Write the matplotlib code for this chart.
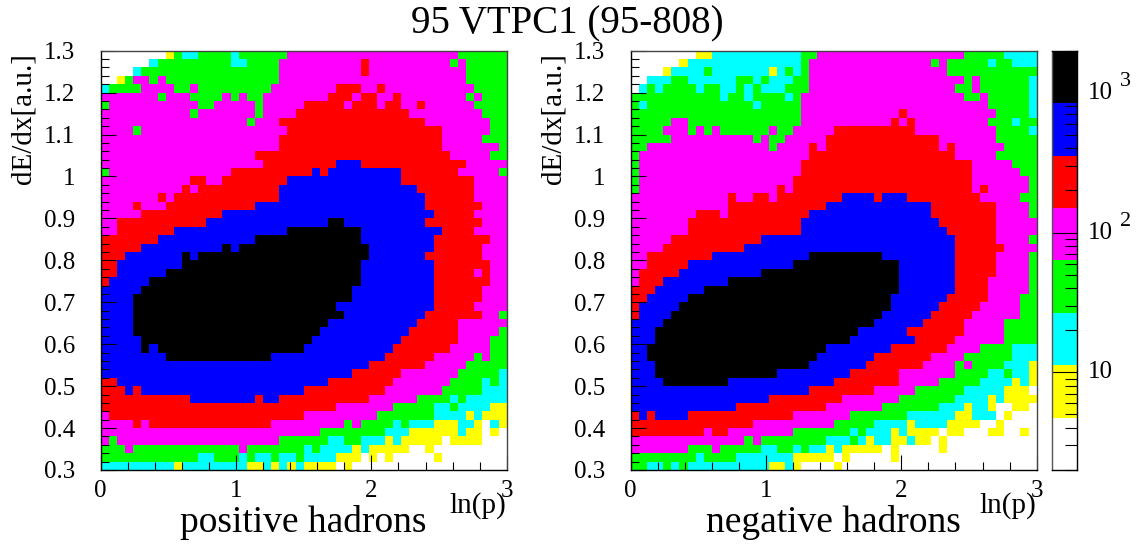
import matplotlib
matplotlib.use("Agg")
import matplotlib.pyplot as plt
import numpy as np
from matplotlib.colors import ListedColormap
from matplotlib.ticker import FixedLocator, LogLocator, NullFormatter

plt.rcParams['font.family'] = ['Liberation Serif', 'DejaVu Serif']

# Each row runs top to bottom: colour class + column where that run ends
positive_rows = [
    "W8 Y9 G10 C12 G16 C17 G23 M44 G50",
    "W6 C7 G16 C18 G22 M32 R33 M43 G44 M45 G50",
    "W4 C5 G22 M32 R33 M45 G50",
    "W2 Y3 G4 M6 G7 M8 G22 M45 G50",
    "C1 G5 M9 G11 M12 G21 M29 R32 M34 R35 M46 G50",
    "M7 G8 M11 G15 M16 G17 M18 G20 M28 R31 M32 R34 M36 R37 M45 G46 M47 G50",
    "G1 M12 G14 M19 G20 M25 R30 M31 R34 M35 R37 M39 R40 M46 G50",
    "M11 G12 M19 G20 M24 R38 M47 G50",
    "M18 G19 M22 R40 M48 G50",
    "M4 G5 M23 R42 M48 G50",
    "M22 R42 M47 G50",
    "M22 R42 M49 G50",
    "M19 R43 M48 G50",
    "M20 R29 B32 R45 M50",
    "G1 M16 R26 B27 R28 B37 R44 M49 G50",
    "M11 R13 M15 R23 B37 R46 M50",
    "M10 R11 M12 R22 B39 R46 M50",
    "M7 R8 M9 R22 B40 R46 M50",
    "M4 R5 M8 R19 B40 R47 M50",
    "M5 R15 B41 R46 M50",
    "M2 R13 B28 K30 B40 R47 M50",
    "M2 R9 B23 K32 B42 R46 M50",
    "R7 B19 K32 B41 R48 M50",
    "R5 B15 K16 B17 K33 B41 R47 M50",
    "R3 B10 K11 B12 K33 B40 R47 M50",
    "R2 B10 K32 B41 R48 M50",
    "R2 B8 K32 B41 R46 M47 R48 M50",
    "R1 B6 K32 B41 R48 M50",
    "B5 K31 B41 R47 M50",
    "B4 K31 B41 R47 M50",
    "B4 K29 B41 R46 M50",
    "B4 K30 B40 R47 M49 G50",
    "B4 K28 B39 R44 M50",
    "B4 K27 B38 R44 M49 G50",
    "B5 K26 B37 R44 M48 G50",
    "B5 K6 B7 K25 B36 R43 M48 G50",
    "B8 K21 B35 R41 M46 G47 M48 G50",
    "B33 R40 M45 G50",
    "B31 R37 M44 G49 C50",
    "R2 B28 R36 M43 G47 C48 G49 C50",
    "R3 B4 R5 B25 R35 M42 G47 C50",
    "R11 B19 R20 B22 R33 M39 G43 C44 G45 C50",
    "R29 M36 G41 C43 G44 C48 Y50",
    "M1 R25 M34 G41 C45 Y46 C47 Y50",
    "M4 R5 M6 R21 M30 G31 M32 G36 C37 G38 C41 Y44 C46 Y47 W48 C49 Y50",
    "M27 G35 C38 Y44 C45 Y47 W48 Y49 W50",
    "M1 G2 M22 G28 C30 G32 C35 Y36 C37 Y42 W43 Y47 W50",
    "G3 M4 G17 M18 G25 C26 G27 C31 Y32 C33 Y38 W40 Y41 W50",
    "G12 C14 G17 C18 G19 C21 G22 C24 G25 C29 Y32 W33 Y34 W35 Y36 W41 Y42 W50",
    "C9 Y10 C18 Y20 C21 Y22 C23 Y24 C25 Y29 W30 Y31 W50",
]

negative_rows = [
    "W8 Y10 C21 G23 M41 G46 C50",
    "W6 Y7 C21 G22 M37 G38 M39 G44 C45 G47 C50",
    "W4 Y5 C9 G10 C17 Y18 C19 G20 C21 G22 M39 G50",
    "W2 C5 G7 C13 G15 C16 G17 C20 G22 M41 G42 M43 G49 C50",
    "W1 C2 G3 C4 G8 C9 G11 C13 G14 C15 G16 C19 G22 M40 G42 M43 G49 C50",
    "G11 C12 G14 C15 G19 C20 G21 M41 G43 M44 G49 C50",
    "G1 C2 G15 C16 G21 M44 G49 C50",
    "G21 M33 R34 M45 G49 C50",
    "G5 M7 G21 M32 R33 M34 R35 M44 G47 C48 G50",
    "G4 M7 G8 M9 G10 M11 G17 M18 G20 M25 R35 M45 G49 C50",
    "G5 M15 G16 M17 G19 M24 R38 M45 G50",
    "G2 M17 G18 M22 R23 M24 R38 M39 R40 M46 G50",
    "G1 M22 R40 M45 G50",
    "G1 M21 R42 M47 G50",
    "G1 M21 R42 M48 G50",
    "G1 M20 R42 M49 G50",
    "G1 M18 R19 M20 R42 M43 R44 M49 G50",
    "M12 R13 M15 R17 M18 R26 B30 R31 B34 R43 M48 G50",
    "M12 R24 B37 R45 M49 G50",
    "M8 R11 M12 R22 B37 R45 M49 G50",
    "M7 R21 B38 R45 M50",
    "M7 R21 B39 R45 M50",
    "M5 R16 B40 R45 M49 G50",
    "M4 R14 B40 R46 M50",
    "M2 R10 B22 K31 B40 R45 M49 G50",
    "M2 R7 B20 K33 B40 R45 M49 G50",
    "M1 R6 B16 K33 B40 R45 M49 G50",
    "M1 R4 B12 K33 B40 R44 M49 G50",
    "R3 B9 K33 B40 R44 M49 G50",
    "R2 B7 K32 B39 R44 M48 G50",
    "R1 B6 K32 B38 R43 M48 G50",
    "R1 B5 K31 B37 R42 M48 G50",
    "B4 K30 B36 R41 M46 G50",
    "B3 K28 B34 R41 M46 G50",
    "B3 K27 B35 R40 M46 G50",
    "B2 K24 B32 R39 M43 G47 C50",
    "B2 K23 B30 R37 M41 G47 C50",
    "B3 K22 B29 R36 M40 G41 M42 G46 C49 Y50",
    "B3 K18 B27 R33 M40 G44 C46 G47 C49 Y50",
    "B4 K12 B25 R33 M38 G43 C47 Y48 C49 Y50",
    "B22 R30 M35 G41 C46 Y49 W50",
    "B17 R26 M33 G40 C44 Y45 C46 Y50",
    "B13 R24 M31 G38 C41 Y42 C44 Y45 W47 Y49 W50",
    "R1 B2 R3 B7 R20 M27 G34 C40 Y42 C45 W46 Y47 W50",
    "R15 M25 G30 C34 Y35 C39 Y43 W45 Y46 W50",
    "R9 M10 R12 M20 G27 C28 G29 C32 Y33 C34 Y38 W39 Y41 W44 Y46 W48 Y49 W50",
    "M14 G15 M16 G24 C27 G28 C29 Y30 C32 Y34 C35 Y37 W38 Y39 W50",
    "M7 G10 M11 G16 C18 G20 C21 G22 C24 Y25 C26 Y31 W32 Y33 W38 Y39 W50",
    "G8 C9 G13 C20 Y25 W26 Y27 W32 Y33 W50",
    "G2 C4 G5 C6 G7 C17 Y19 C20 Y21 W25 Y26 W50",
]

classes = "WYCGMRBK"
class_colors = ["white", "#ffff00", "#00ffff", "#00ff00", "#ff00ff", "#ff0000", "#0000ff", "black"]
z_min = 2
z_max = 2000
x_ticks = [0, 1, 2, 3]
y_ticks = [0.3, 0.4, 0.5, 0.6, 0.7, 0.8, 0.9, 1.0, 1.1, 1.2, 1.3]
y_tick_labels = ["0.3", "0.4", "0.5", "0.6", "0.7", "0.8", "0.9", "1", "1.1", "1.2", "1.3"]

W = 1139.0
H = 547.0
cmap = ListedColormap(class_colors)


def px_axes(left, top, right, bottom):
    return fig.add_axes([left / W, 1 - bottom / H, (right - left) / W, (bottom - top) / H])


def decode(rows):
    grid = []
    for row in rows:
        line = []
        for run in row.split():
            line += [classes.index(run[0])] * (int(run[1:]) - len(line))
        grid.append(line)
    return np.array(grid)


def draw_panel(ax, rows):
    grid = decode(rows)
    xe = np.linspace(0, 3, grid.shape[1] + 1)
    ye = np.linspace(1.3, 0.3, grid.shape[0] + 1)
    ax.pcolormesh(xe, ye, grid, cmap=cmap, vmin=-0.5, vmax=7.5, antialiased=False, rasterized=True)
    ax.set_xlim(0, 3)
    ax.set_ylim(0.3, 1.3)
    ax.set_xticks(x_ticks)
    ax.set_xticklabels([str(v) for v in x_ticks])
    ax.set_yticks(y_ticks)
    ax.set_yticklabels(y_tick_labels)
    ax.xaxis.set_minor_locator(FixedLocator(np.arange(0, 3.01, 0.2)))
    ax.yaxis.set_minor_locator(FixedLocator(np.arange(0.3, 1.301, 0.02)))
    ax.tick_params(which='major', direction='in', length=10.5, width=0.8, labelsize=18, pad=18.5)
    ax.tick_params(which='minor', direction='in', length=5.5, width=0.8)
    ax.tick_params(axis='x', which='major', pad=7)
    for side in ax.spines:
        ax.spines[side].set_linewidth(1.0)
    for side in ['top', 'right']:
        ax.spines[side].set_color('#444444')


fig = plt.figure(figsize=(W / 100, H / 100), dpi=100)

ax1 = px_axes(100.7, 50.7, 506.7, 470)
draw_panel(ax1, positive_rows)
ax2 = px_axes(630.7, 50.7, 1036.7, 470)
draw_panel(ax2, negative_rows)

# z scale, 8 equal steps in log
cax = px_axes(1051.7, 50.7, 1076.7, 470)
z_edges = np.logspace(np.log10(z_min), np.log10(z_max), len(class_colors) + 1)
cax.pcolormesh([0, 1], z_edges, np.arange(len(class_colors)).reshape(-1, 1), cmap=cmap,
               vmin=-0.5, vmax=7.5, antialiased=False, rasterized=True)
cax.set_yscale('log')
cax.set_ylim(z_min, z_max)
cax.set_xticks([])
cax.yaxis.tick_right()
cax.yaxis.set_major_locator(FixedLocator([10, 100, 1000]))
cax.yaxis.set_minor_locator(LogLocator(base=10, subs=np.arange(2, 10), numticks=12))
cax.yaxis.set_major_formatter(NullFormatter())
cax.yaxis.set_minor_formatter(NullFormatter())
cax.tick_params(which='major', direction='in', length=18, width=0.8)
cax.tick_params(which='minor', direction='in', length=8.4, width=0.8)
for side in cax.spines:
    cax.spines[side].set_linewidth(1.0)
cax.spines['left'].set_color('#555555')

trans = cax.get_yaxis_transform()
for z, power in [(10, ""), (100, "2"), (1000, "3")]:
    cax.text(1.96, z, "10", transform=trans, fontsize=18, ha='center', va='center')
    if power:
        cax.annotate(power, xy=(1.96, z), xycoords=trans, xytext=(18, 8), textcoords='offset points',
                     fontsize=16, ha='center', va='center')

fig.text(567 / W, 1 - 24 / H, "95 VTPC1 (95-808)", fontsize=28, ha='center', va='center')
fig.text(303.5 / W, 1 - 522 / H, "positive hadrons", fontsize=27, ha='center', va='center')
fig.text(833 / W, 1 - 522 / H, "negative hadrons", fontsize=27, ha='center', va='center')
fig.text(478 / W, 1 - 506 / H, "ln(p)", fontsize=21, ha='center', va='center')
fig.text(1008 / W, 1 - 506 / H, "ln(p)", fontsize=21, ha='center', va='center')
fig.text(24 / W, 1 - 119 / H, "dE/dx[a.u.]", fontsize=21, rotation=90, ha='center', va='center')
fig.text(554 / W, 1 - 119 / H, "dE/dx[a.u.]", fontsize=21, rotation=90, ha='center', va='center')

fig.savefig("out.png", dpi=100)
